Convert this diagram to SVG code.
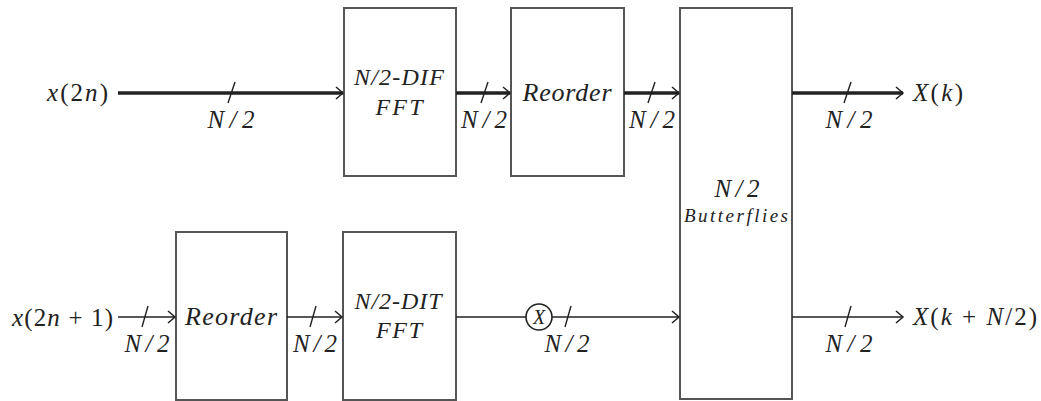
<svg xmlns="http://www.w3.org/2000/svg" width="1041" height="401" viewBox="0 0 1041 401">
<style>
.box{fill:#fff;stroke:#555;stroke-width:2}
.thick{stroke:#222;stroke-width:3.5;fill:none}
.thin{stroke:#222;stroke-width:1.6;fill:none}
.tick{stroke:#222;stroke-width:1.4}
.t{font-family:"Liberation Serif","Times New Roman",Times,"DejaVu Serif","Noto Serif",serif}
</style>
<defs>
<marker id="arr" markerUnits="userSpaceOnUse" markerWidth="12" markerHeight="14" refX="9" refY="7" orient="auto">
<path d="M2,1 L9,7 L2,13" fill="none" stroke="#222" stroke-width="1.5"/>
</marker>
</defs>
<g class="t" fill="#222">
<g id="node-dif">
<rect class="box" x="344" y="8" width="112" height="168"/>
<text x="399" y="85" font-size="24" font-style="italic" text-anchor="middle" textLength="90">N/2-DIF</text>
<text x="399" y="115" font-size="24" font-style="italic" text-anchor="middle" textLength="47">FFT</text>
</g>
<g id="node-reorder-top">
<rect class="box" x="511" y="8" width="113" height="168"/>
<text x="567" y="101" font-size="26" font-style="italic" text-anchor="middle" textLength="89">Reorder</text>
</g>
<g id="node-butterflies">
<rect class="box" x="680" y="8" width="112" height="391"/>
<text x="737" y="197" font-size="25" font-style="italic" text-anchor="middle" textLength="45">N/2</text>
<text x="736" y="222" font-size="19" font-style="italic" text-anchor="middle" textLength="104">Butterflies</text>
</g>
<g id="node-reorder-bottom">
<rect class="box" x="176" y="232" width="111" height="168"/>
<text x="231" y="325" font-size="26" font-style="italic" text-anchor="middle" textLength="92">Reorder</text>
</g>
<g id="node-dit">
<rect class="box" x="343" y="232" width="113" height="168"/>
<text x="398" y="309" font-size="24" font-style="italic" text-anchor="middle" textLength="87">N/2-DIT</text>
<text x="399" y="338" font-size="24" font-style="italic" text-anchor="middle" textLength="46">FFT</text>
</g>
<g id="node-mult">
<circle cx="539" cy="317" r="13" fill="#fff" stroke="#222" stroke-width="1.6"/>
<text x="539" y="324" font-size="20" font-style="italic" text-anchor="middle">X</text>
</g>
<g id="connectors">
<line class="thick" x1="118" y1="93" x2="343" y2="93" marker-end="url(#arr)"/>
<line class="thick" x1="456" y1="93" x2="510" y2="93" marker-end="url(#arr)"/>
<line class="thick" x1="624" y1="93" x2="679" y2="93" marker-end="url(#arr)"/>
<line class="thick" x1="792" y1="93" x2="903" y2="93" marker-end="url(#arr)"/>
<line class="thin" x1="118" y1="317" x2="175" y2="317" marker-end="url(#arr)"/>
<line class="thin" x1="287" y1="317" x2="342" y2="317" marker-end="url(#arr)"/>
<line class="thin" x1="456" y1="317" x2="526" y2="317"/>
<line class="thin" x1="552" y1="317" x2="679" y2="317" marker-end="url(#arr)"/>
<line class="thin" x1="792" y1="317" x2="903" y2="317" marker-end="url(#arr)"/>
<line class="tick" x1="235" y1="82" x2="228" y2="103"/>
<line class="tick" x1="488" y1="82" x2="481" y2="103"/>
<line class="tick" x1="655" y1="82" x2="648" y2="103"/>
<line class="tick" x1="851" y1="82" x2="844" y2="103"/>
<line class="tick" x1="148" y1="306" x2="142" y2="327"/>
<line class="tick" x1="316" y1="306" x2="310" y2="327"/>
<line class="tick" x1="571" y1="306" x2="565" y2="327"/>
<line class="tick" x1="851" y1="306" x2="845" y2="327"/>
</g>
<g id="labels" font-size="25">
<text x="47" y="101" textLength="61"><tspan font-style="italic">x</tspan>(2<tspan font-style="italic">n</tspan>)</text>
<text x="12" y="326" textLength="101"><tspan font-style="italic">x</tspan>(2<tspan font-style="italic">n</tspan> + 1)</text>
<text x="913" y="101" textLength="50"><tspan font-style="italic">X</tspan>(<tspan font-style="italic">k</tspan>)</text>
<text x="913" y="325" textLength="124"><tspan font-style="italic">X</tspan>(<tspan font-style="italic">k</tspan> + <tspan font-style="italic">N</tspan>/2)</text>
<g font-style="italic" text-anchor="middle">
<text x="231" y="128" textLength="47">N/2</text>
<text x="484" y="128" textLength="46">N/2</text>
<text x="652" y="128" textLength="46">N/2</text>
<text x="849" y="128" textLength="47">N/2</text>
<text x="147" y="352" textLength="45">N/2</text>
<text x="315" y="352" textLength="44">N/2</text>
<text x="567" y="352" textLength="45">N/2</text>
<text x="849" y="352" textLength="47">N/2</text>
</g>
</g>
</g>
</svg>
